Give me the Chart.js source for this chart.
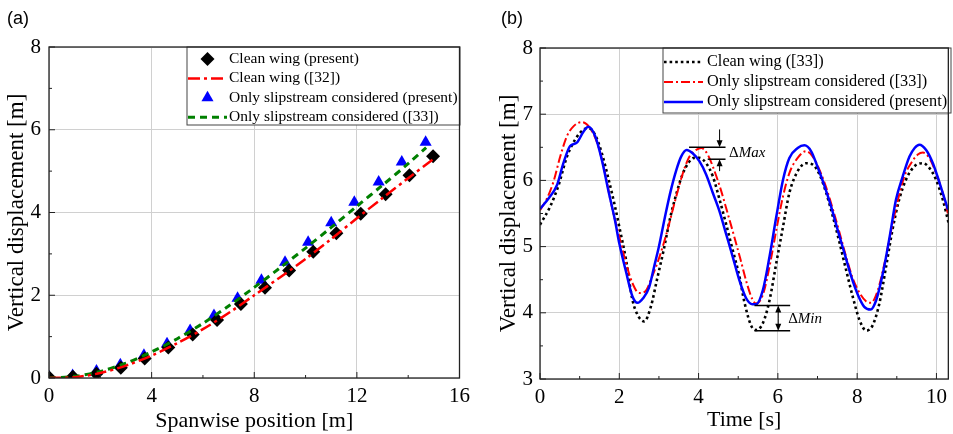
<!DOCTYPE html>
<html>
<head>
<meta charset="utf-8">
<script src="https://cdn.jsdelivr.net/npm/chart.js@4.4.1/dist/chart.umd.min.js"></script>
<style>
  body { margin: 0; background: #fff; }
  #wrap { position: relative; width: 953px; height: 434px; }
  canvas { position: absolute; top: 0; }
  .tag { position: absolute; top: 8px; font: 18px "Liberation Sans", Arial, sans-serif; color: #000; }
</style>
</head>
<body>
<div id="wrap">
  <canvas id="chartA" width="476" height="434" style="left:0"></canvas>
  <canvas id="chartB" width="477" height="434" style="left:476px"></canvas>
  <div class="tag" style="left:7px">(a)</div>
  <div class="tag" style="left:501px">(b)</div>
</div>
<script>
// ---------- (a) spanwise vertical displacement ----------
const cleanPresentX = [0, 0.93, 1.85, 2.8, 3.73, 4.65, 5.6, 6.55, 7.48, 8.42, 9.36, 10.3, 11.2, 12.15, 13.12, 14.05, 14.97];
const cleanPresentY = [0.02, 0.03, 0.1, 0.25, 0.47, 0.74, 1.05, 1.4, 1.79, 2.18, 2.6, 3.05, 3.5, 3.97, 4.44, 4.9, 5.36];
const clean32X = [0, 1, 2, 3, 4, 5, 6, 7, 8, 9, 10, 11, 12, 13, 14, 15];
const clean32Y = [0, 0.02, 0.12, 0.3, 0.54, 0.84, 1.18, 1.57, 2.0, 2.43, 2.88, 3.36, 3.86, 4.35, 4.83, 5.3];
const slipPresentX = [0, 0.92, 1.85, 2.78, 3.7, 4.6, 5.5, 6.43, 7.35, 8.28, 9.2, 10.1, 11.0, 11.9, 12.85, 13.75, 14.68];
const slipPresentY = [0.03, 0.06, 0.17, 0.32, 0.55, 0.83, 1.15, 1.51, 1.93, 2.36, 2.8, 3.28, 3.75, 4.25, 4.74, 5.22, 5.7];
const slip33X = [0, 1, 2, 3, 4, 5, 6, 7, 8, 9, 10, 11, 12, 13, 14, 14.7];
const slip33Y = [0, 0.04, 0.16, 0.36, 0.63, 0.95, 1.32, 1.74, 2.19, 2.66, 3.14, 3.64, 4.15, 4.66, 5.18, 5.57];
const spanTicks = [0, 4, 8, 12, 16];
const dispTicksA = [0, 2, 4, 6, 8];

// ---------- (b) tip displacement time history ----------
const cleanT = [0, 0.26, 0.47, 0.68, 0.89, 1.1, 1.22, 1.39, 1.56, 1.72, 1.89, 2.0, 2.17, 2.33, 2.48, 2.63, 2.8, 2.95, 3.12, 3.29, 3.45, 3.6, 3.75, 3.89, 4.02, 4.19, 4.36, 4.53, 4.69, 4.86, 5.03, 5.16, 5.33, 5.45, 5.62, 5.79, 5.96, 6.13, 6.29, 6.5, 6.71, 6.88, 7.05, 7.22, 7.39, 7.56, 7.72, 7.89, 8.06, 8.23, 8.39, 8.56, 8.73, 8.89, 9.06, 9.23, 9.44, 9.66, 9.82, 9.99, 10.16, 10.33];
const cleanV = [5.33, 5.61, 5.93, 6.36, 6.62, 6.77, 6.79, 6.69, 6.41, 6.04, 5.61, 5.3, 4.8, 4.2, 3.95, 3.87, 4.1, 4.5, 4.95, 5.45, 5.82, 6.1, 6.27, 6.34, 6.34, 6.26, 6.06, 5.71, 5.35, 4.95, 4.55, 4.15, 3.8, 3.74, 3.84, 4.19, 4.75, 5.3, 5.81, 6.14, 6.26, 6.24, 6.09, 5.81, 5.45, 5.05, 4.65, 4.24, 3.89, 3.73, 3.81, 4.14, 4.7, 5.25, 5.71, 6.01, 6.21, 6.26, 6.19, 6.01, 5.71, 5.3];
const slip33T = [0, 0.17, 0.34, 0.51, 0.68, 0.85, 1.05, 1.26, 1.47, 1.64, 1.81, 2.0, 2.17, 2.33, 2.5, 2.65, 2.83, 3.0, 3.17, 3.42, 3.61, 3.77, 3.94, 4.07, 4.23, 4.39, 4.56, 4.73, 4.9, 5.06, 5.23, 5.36, 5.45, 5.62, 5.79, 5.96, 6.13, 6.29, 6.5, 6.71, 6.88, 7.05, 7.22, 7.39, 7.56, 7.72, 7.89, 8.06, 8.23, 8.35, 8.52, 8.69, 8.86, 9.03, 9.19, 9.36, 9.53, 9.66, 9.82, 9.99, 10.16, 10.29];
const slip33V = [5.55, 5.72, 5.98, 6.36, 6.67, 6.82, 6.88, 6.79, 6.52, 6.11, 5.61, 5.15, 4.75, 4.45, 4.3, 4.32, 4.55, 4.82, 5.15, 5.72, 6.12, 6.36, 6.46, 6.49, 6.39, 6.16, 5.86, 5.51, 5.15, 4.8, 4.42, 4.2, 4.14, 4.27, 4.7, 5.25, 5.76, 6.11, 6.34, 6.44, 6.36, 6.16, 5.89, 5.56, 5.2, 4.85, 4.52, 4.3, 4.17, 4.15, 4.34, 4.75, 5.25, 5.71, 6.06, 6.26, 6.39, 6.42, 6.34, 6.11, 5.81, 5.5];
const presentT = [0, 0.22, 0.43, 0.59, 0.76, 0.93, 1.1, 1.22, 1.39, 1.56, 1.72, 1.89, 2.0, 2.17, 2.33, 2.46, 2.6, 2.75, 2.88, 3.0, 3.17, 3.3, 3.44, 3.56, 3.7, 3.85, 4.02, 4.19, 4.36, 4.53, 4.69, 4.86, 5.03, 5.2, 5.36, 5.45, 5.62, 5.79, 5.96, 6.13, 6.29, 6.5, 6.67, 6.84, 7.01, 7.18, 7.34, 7.51, 7.68, 7.85, 8.02, 8.18, 8.34, 8.48, 8.65, 8.82, 8.98, 9.15, 9.32, 9.45, 9.57, 9.74, 9.91, 10.08, 10.29];
const presentV = [5.57, 5.73, 5.93, 6.26, 6.52, 6.57, 6.74, 6.81, 6.67, 6.31, 5.86, 5.4, 5.05, 4.62, 4.25, 4.15, 4.22, 4.38, 4.7, 5.0, 5.5, 5.85, 6.16, 6.36, 6.46, 6.41, 6.29, 6.09, 5.81, 5.53, 5.2, 4.85, 4.49, 4.22, 4.13, 4.13, 4.34, 4.85, 5.45, 6.01, 6.34, 6.49, 6.53, 6.44, 6.19, 5.91, 5.61, 5.25, 4.9, 4.55, 4.27, 4.09, 4.05, 4.19, 4.6, 5.15, 5.71, 6.06, 6.36, 6.49, 6.54, 6.46, 6.26, 5.96, 5.56];
const timeTicks = [0, 2, 4, 6, 8, 10];
const dispTicksB = [3, 4, 5, 6, 7, 8];
const maxLevels = [6.5, 6.32];   // ΔMax bracket
const minLevels = [4.11, 3.73];  // ΔMin bracket

const serif = '"Liberation Serif", "Times New Roman", serif';

function pts(xs, ys) {
    return xs.map((x, i) => ({ x: x, y: ys[i] }));
}

// frame around the plot area + inward major/minor ticks
const frameTicks = {
    id: 'frameTicks',
    afterDraw(chart) {
        const { ctx, chartArea: a, scales: { x, y } } = chart;
        ctx.save();
        ctx.strokeStyle = '#222';
        ctx.lineWidth = 1.3;
        ctx.strokeRect(a.left, a.top, a.right - a.left, a.bottom - a.top);
        ctx.lineWidth = 1;
        ctx.beginPath();
        const xs = x.ticks.map(t => t.value);
        xs.forEach((v, i) => {
            const px = x.getPixelForValue(v);
            ctx.moveTo(px, a.bottom); ctx.lineTo(px, a.bottom - 6);
            if (i < xs.length - 1) {
                const m = x.getPixelForValue((v + xs[i + 1]) / 2);
                ctx.moveTo(m, a.bottom); ctx.lineTo(m, a.bottom - 3);
            }
        });
        const ys = y.ticks.map(t => t.value);
        ys.forEach((v, i) => {
            const py = y.getPixelForValue(v);
            ctx.moveTo(a.left, py); ctx.lineTo(a.left + 6, py);
            if (i < ys.length - 1) {
                const m = y.getPixelForValue((v + ys[i + 1]) / 2);
                ctx.moveTo(a.left, m); ctx.lineTo(a.left + 3, m);
            }
        });
        ctx.stroke();
        ctx.restore();
    }
};

function drawMarker(ctx, style, cx, cy, r) {
    ctx.beginPath();
    if (style === 'rectRot') {
        ctx.moveTo(cx - r, cy); ctx.lineTo(cx, cy - r); ctx.lineTo(cx + r, cy); ctx.lineTo(cx, cy + r);
    } else {
        ctx.moveTo(cx, cy - r);
        ctx.lineTo(cx + r * 0.866, cy + r / 2);
        ctx.lineTo(cx - r * 0.866, cy + r / 2);
    }
    ctx.closePath();
    ctx.fill();
}

// boxed legend inside the plot area
const boxLegend = {
    id: 'boxLegend',
    afterDatasetsDraw(chart, args, o) {
        const ctx = chart.ctx;
        ctx.save();
        ctx.fillStyle = '#fff';
        ctx.fillRect(o.x, o.y, o.w, o.h);
        ctx.strokeStyle = '#444';
        ctx.lineWidth = 1;
        ctx.strokeRect(o.x, o.y, o.w, o.h);
        ctx.font = o.size + 'px ' + serif;
        ctx.textBaseline = 'middle';
        o.order.forEach((di, i) => {
            const ds = chart.data.datasets[di];
            const yy = o.row0 + i * o.gap;
            if (ds.showLine === false) {
                ctx.fillStyle = ds.backgroundColor;
                drawMarker(ctx, ds.pointStyle, (o.s0 + o.s1) / 2, yy, ds.pointRadius);
            } else {
                ctx.strokeStyle = ds.borderColor;
                ctx.lineWidth = ds.borderWidth;
                ctx.setLineDash(ds.borderDash || []);
                ctx.beginPath();
                ctx.moveTo(o.s0, yy); ctx.lineTo(o.s1, yy);
                ctx.stroke();
                ctx.setLineDash([]);
            }
            ctx.fillStyle = '#000';
            ctx.fillText(ds.label, o.tx, yy);
        });
        ctx.restore();
    }
};

function axisFont(size) {
    return { family: serif, size: size };
}

// ================= (a) =================
new Chart(document.getElementById('chartA'), {
    type: 'line',
    data: {
        datasets: [
            { label: 'Clean wing (present)', data: pts(cleanPresentX, cleanPresentY), showLine: false,
              pointStyle: 'rectRot', pointRadius: 7, backgroundColor: '#000', borderColor: '#000', borderWidth: 0, order: 3 },
            { label: 'Clean wing ([32])', data: pts(clean32X, clean32Y), borderColor: '#ff0000', borderWidth: 2.5,
              borderDash: [12, 4, 3, 4], pointRadius: 0, tension: 0.3, order: 1 },
            { label: 'Only slipstream considered (present)', data: pts(slipPresentX, slipPresentY), showLine: false,
              pointStyle: 'triangle', pointRadius: 7, backgroundColor: '#0000ff', borderColor: '#0000ff', borderWidth: 0, order: 4 },
            { label: 'Only slipstream considered ([33])', data: pts(slip33X, slip33Y), borderColor: '#008000', borderWidth: 3,
              borderDash: [7, 5], pointRadius: 0, tension: 0.3, order: 2 }
        ]
    },
    options: {
        responsive: false,
        animation: false,
        layout: { padding: { top: 47, right: 16, left: 0, bottom: 0 } },
        plugins: {
            legend: { display: false },
            tooltip: { enabled: false },
            boxLegend: { x: 187, y: 47, w: 273, h: 78, row0: 59, gap: 19.4, s0: 188, s1: 227, tx: 229, size: 15.5, order: [0, 1, 2, 3] }
        },
        scales: {
            x: {
                type: 'linear', min: 0, max: 16,
                afterBuildTicks: s => { s.ticks = spanTicks.map(v => ({ value: v })); },
                afterFit: s => { s.height = 56; },
                grid: { color: '#d0d0d0', drawTicks: false },
                border: { display: false },
                ticks: { padding: 6, font: axisFont(21), color: '#000' },
                title: { display: true, text: 'Spanwise position [m]', font: axisFont(22), color: '#000', padding: { top: 0, bottom: 0 } }
            },
            y: {
                type: 'linear', min: 0, max: 8,
                afterBuildTicks: s => { s.ticks = dispTicksA.map(v => ({ value: v })); },
                afterFit: s => { s.width = 49; },
                grid: { color: '#d0d0d0', drawTicks: false },
                border: { display: false },
                ticks: { padding: 8, font: axisFont(21), color: '#000' },
                title: { display: true, text: 'Vertical displacement [m]', font: axisFont(23), color: '#000', padding: { top: 3, bottom: 0 } }
            }
        }
    },
    plugins: [boxLegend, frameTicks]
});

// ΔMax / ΔMin brackets
const deltaMarks = {
    id: 'deltaMarks',
    afterDatasetsDraw(chart) {
        const { ctx, scales: { x, y } } = chart;
        ctx.save();
        ctx.strokeStyle = '#000';
        ctx.fillStyle = '#000';
        ctx.lineWidth = 1.5;
        const hline = (t0, t1, v) => {
            ctx.beginPath();
            ctx.moveTo(x.getPixelForValue(t0), y.getPixelForValue(v));
            ctx.lineTo(x.getPixelForValue(t1), y.getPixelForValue(v));
            ctx.stroke();
        };
        const arrow = (t, vFrom, vTo) => {
            const px = x.getPixelForValue(t), p0 = y.getPixelForValue(vFrom), p1 = y.getPixelForValue(vTo);
            const dir = p1 > p0 ? 1 : -1;
            ctx.lineWidth = 1;
            ctx.beginPath();
            ctx.moveTo(px, p0); ctx.lineTo(px, p1 - dir * 5);
            ctx.stroke();
            ctx.beginPath();
            ctx.moveTo(px, p1); ctx.lineTo(px - 3, p1 - dir * 7); ctx.lineTo(px + 3, p1 - dir * 7);
            ctx.closePath();
            ctx.fill();
            ctx.lineWidth = 1.5;
        };
        const label = (t, v, name) => {
            const px = x.getPixelForValue(t), py = y.getPixelForValue(v);
            ctx.textBaseline = 'middle';
            ctx.font = '15px ' + serif;
            ctx.fillText('\u0394', px, py);
            const w = ctx.measureText('\u0394').width;
            ctx.font = 'italic 15px ' + serif;
            ctx.fillText(name, px + w, py);
        };
        hline(3.76, 4.68, maxLevels[0]);
        hline(4.23, 4.68, maxLevels[1]);
        arrow(4.53, 6.77, maxLevels[0]);
        arrow(4.53, 6.14, maxLevels[1]);
        label(4.77, (maxLevels[0] + maxLevels[1]) / 2, 'Max');
        hline(5.41, 6.31, minLevels[0]);
        hline(5.41, 6.31, minLevels[1]);
        const mid = (minLevels[0] + minLevels[1]) / 2;
        arrow(6.01, mid, minLevels[0]);
        arrow(6.01, mid, minLevels[1]);
        label(6.26, mid - 0.01, 'Min');
        ctx.restore();
    }
};

// ================= (b) =================
new Chart(document.getElementById('chartB'), {
    type: 'line',
    data: {
        datasets: [
            { label: 'Clean wing ([33])', data: pts(cleanT, cleanV), borderColor: '#000', borderWidth: 2.6,
              borderDash: [2.6, 3], pointRadius: 0, cubicInterpolationMode: 'monotone', order: 3 },
            { label: 'Only slipstream considered ([33])', data: pts(slip33T, slip33V), borderColor: '#ff0000', borderWidth: 2,
              borderDash: [9, 3, 2, 3], pointRadius: 0, cubicInterpolationMode: 'monotone', order: 2 },
            { label: 'Only slipstream considered (present)', data: pts(presentT, presentV), borderColor: '#0000ff', borderWidth: 2.5,
              pointRadius: 0, cubicInterpolationMode: 'monotone', order: 1 }
        ]
    },
    options: {
        responsive: false,
        animation: false,
        layout: { padding: { top: 48, right: 2, left: 0, bottom: 0 } },
        plugins: {
            legend: { display: false },
            tooltip: { enabled: false },
            boxLegend: { x: 187, y: 48, w: 288, h: 65, row0: 62, gap: 20, s0: 188, s1: 227, tx: 231, size: 16.3, order: [0, 1, 2] }
        },
        scales: {
            x: {
                type: 'linear', min: 0, max: 10.3,
                afterBuildTicks: s => { s.ticks = timeTicks.map(v => ({ value: v })); },
                afterFit: s => { s.height = 55; },
                grid: { color: '#d0d0d0', drawTicks: false },
                border: { display: false },
                ticks: { padding: 6, font: axisFont(21), color: '#000' },
                title: { display: true, text: 'Time [s]', font: axisFont(22), color: '#000', padding: { top: 0, bottom: 1 } }
            },
            y: {
                type: 'linear', min: 3, max: 8,
                afterBuildTicks: s => { s.ticks = dispTicksB.map(v => ({ value: v })); },
                afterFit: s => { s.width = 64; },
                grid: { color: '#d0d0d0', drawTicks: false },
                border: { display: false },
                ticks: { padding: 7, font: axisFont(21), color: '#000' },
                title: { display: true, text: 'Vertical displacement [m]', font: axisFont(23), color: '#000', padding: { top: 19, bottom: 0 } }
            }
        }
    },
    plugins: [deltaMarks, boxLegend, frameTicks]
});
</script>
</body>
</html>
